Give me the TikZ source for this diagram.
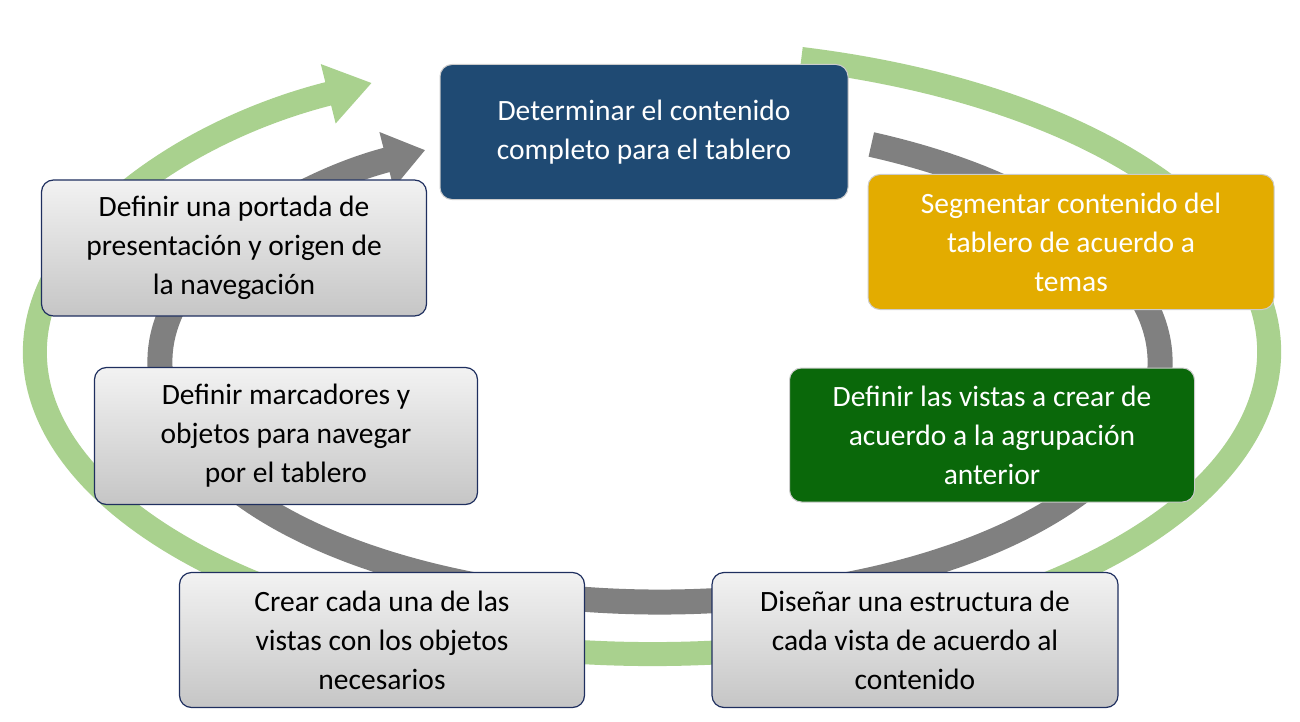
\documentclass[tikz,border=0pt]{standalone}
\usepackage{fontspec}
\setmainfont{Carlito}
\usetikzlibrary{arrows.meta}
\definecolor{navy}{HTML}{1F4A73}
\definecolor{gold}{HTML}{E3AC00}
\definecolor{dgreen}{HTML}{0A680A}
\definecolor{lgreen}{HTML}{A9D18E}
\definecolor{ring}{HTML}{808080}
\definecolor{edge}{HTML}{1F2F5F}
\begin{document}
\begin{tikzpicture}[x=1pt,y=-1pt,
  box/.style={rounded corners=12pt,minimum width=#1,align=center,inner sep=4pt,
    font=\fontsize{29.5}{39}\selectfont},
  box/.default=400pt,
  col/.style={box=#1,text=white,draw=gray!40,line width=1pt},
  grey/.style={box=#1,text=black,draw=edge,line width=1.2pt,top color=gray!10,bottom color=gray!45}]
\useasboundingbox (0,0) rectangle (1300,722);
% rings
\draw[lgreen,line width=24pt,-{Triangle[width=58pt,length=45pt]}] (652,352) ++(-76:617 and 302) arc[start angle=-76,end angle=243,x radius=617,y radius=302];
\draw[ring,line width=25pt,-{Triangle[width=55pt,length=40pt]}] (660,362) ++(-65:500 and 240) arc[start angle=-65,end angle=242,x radius=500,y radius=240];
% boxes
\node[col=408pt,fill=navy,minimum height=135pt] (a) at (644,132) {Determinar el contenido\\completo para el tablero};
\node[col=406pt,fill=gold,minimum height=135pt] (b) at (1071,242) {Segmentar contenido del\\tablero de acuerdo a\\temas};
\node[col=405pt,fill=dgreen,minimum height=134pt] (c) at (992,435) {Definir las vistas a crear de\\acuerdo a la agrupación\\anterior};
\node[grey=406pt,minimum height=135pt] (d) at (915,640) {Diseñar una estructura de\\cada vista de acuerdo al\\contenido};
\node[grey=405pt,minimum height=135pt] (e) at (382,640) {Crear cada una de las\\vistas con los objetos\\necesarios};
\node[grey=383pt,minimum height=137pt] (f) at (286,436) {Definir marcadores y\\objetos para navegar\\por el tablero};
\node[grey=385pt,minimum height=136pt] (g) at (234,248) {Definir una portada de\\presentación y origen de\\la navegación};
\end{tikzpicture}
\end{document}
